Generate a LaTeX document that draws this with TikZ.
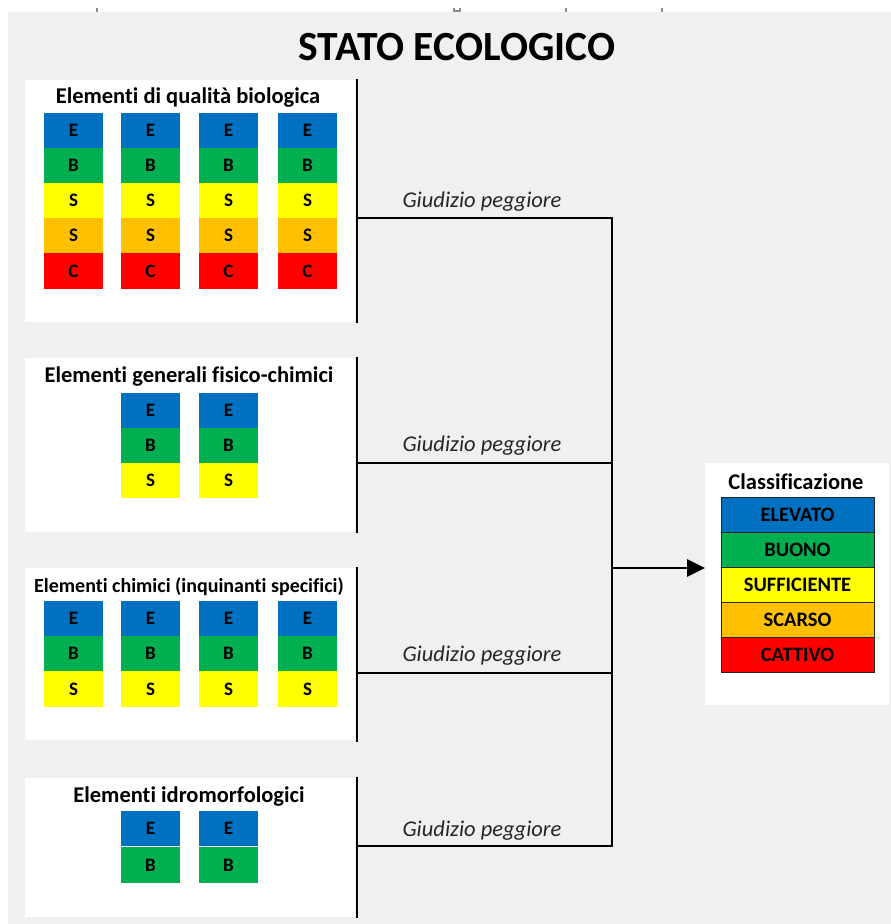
\documentclass[tikz,border=0pt]{standalone}
\usepackage{fontspec}
\setmainfont{Carlito}[Ligatures=NoCommon]
\usetikzlibrary{arrows.meta}
\definecolor{bgray}{HTML}{F0F0F0}
\definecolor{cE}{HTML}{0070C0}
\definecolor{cB}{HTML}{00B050}
\definecolor{cS}{HTML}{FFFF00}
\definecolor{cO}{HTML}{FFC000}
\definecolor{cC}{HTML}{FF0000}
\begin{document}
\begin{tikzpicture}[x=1pt,y=-1pt,
  panel/.style={fill=white,draw=none,inner sep=0,anchor=north west},
  ptitle/.style={font=\fontsize{22.5}{25}\selectfont\bfseries,inner sep=0},
  cell/.style={fill=#1,draw=none,minimum width=59pt,minimum height=35pt,inner sep=0,
    font=\fontsize{19}{21}\selectfont\bfseries},
  crow/.style={fill=#1,draw=black!85,line width=0.8pt,minimum width=153pt,minimum height=35pt,inner sep=0,
    font=\fontsize{20.5}{22}\selectfont\bfseries},
  judge/.style={font=\fontsize{22.5}{25}\selectfont\itshape,text=black!85,inner sep=0},
  wire/.style={line width=2.9pt,black},
  tick/.style={line width=1.2pt,black!45}]
\useasboundingbox (0,0) rectangle (891,924);
\fill[white] (0,0) rectangle (891,924);
\fill[bgray] (8,12) rectangle (891,924);
% small remnants at the top
\draw[tick] (97,8) -- (97,12);
\draw[tick] (454,8) -- (454,11) -- (460,11) -- (460,8);
\draw[tick] (566,8) -- (566,12);
\draw[tick] (662,8) -- (662,12);

\node[font=\fontsize{41.5}{44}\selectfont\bfseries,inner sep=0] (title) at (457,47) {STATO ECOLOGICO};

% panels
\node[panel,minimum width=330pt,minimum height=242pt] (p1) at (25,80) {};
\node[panel,minimum width=330pt,minimum height=174pt] (p2) at (25,358) {};
\node[panel,minimum width=330pt,minimum height=172pt] (p3) at (25,568) {};
\node[panel,minimum width=330pt,minimum height=139pt] (p4) at (25,778) {};
\node[panel,minimum width=184pt,minimum height=242pt] (pc) at (705,463) {};

\node[ptitle] (t1) at (188,98) {Elementi di qualità biologica};
\node[ptitle] (t2) at (189,377) {Elementi generali fisico-chimici};
\node[ptitle,font=\fontsize{20}{22}\selectfont\bfseries] (t3) at (189,587) {Elementi chimici (inquinanti specifici)};
\node[ptitle] (t4) at (189,797) {Elementi idromorfologici};
\node[ptitle] (tc) at (796,482) {Classificazione};

% panel 1 cells
\foreach \x [count=\i] in {73.5,150.5,228.5,307.5}{
  \node[cell=cE] (a\i-1) at (\x,130.5) {E};
  \node[cell=cB] (a\i-2) at (\x,165.5) {B};
  \node[cell=cS] (a\i-3) at (\x,200.5) {S};
  \node[cell=cO] (a\i-4) at (\x,235.5) {S};
  \node[cell=cC,minimum height=36pt] (a\i-5) at (\x,271) {C};
}
% panel 2 cells
\foreach \x [count=\i] in {150.5,228.5}{
  \node[cell=cE] (b\i-1) at (\x,410.5) {E};
  \node[cell=cB] (b\i-2) at (\x,445.5) {B};
  \node[cell=cS] (b\i-3) at (\x,480.5) {S};
}
% panel 3 cells
\foreach \x [count=\i] in {73.5,150.5,228.5,307.5}{
  \node[cell=cE] (c\i-1) at (\x,618.5) {E};
  \node[cell=cB] (c\i-2) at (\x,653.5) {B};
  \node[cell=cS,minimum height=36pt] (c\i-3) at (\x,689) {S};
}
% panel 4 cells
\foreach \x [count=\i] in {150.5,228.5}{
  \node[cell=cE] (d\i-1) at (\x,828.5) {E};
  \node[cell=cB,minimum height=36pt] (d\i-2) at (\x,865) {B};
}

% classification rows
\node[crow=cE] (k1) at (797.5,514.5) {ELEVATO};
\node[crow=cB] (k2) at (797.5,549.5) {BUONO};
\node[crow=cS] (k3) at (797.5,584.5) {SUFFICIENTE};
\node[crow=cO] (k4) at (797.5,619.5) {SCARSO};
\node[crow=cC] (k5) at (797.5,654.5) {CATTIVO};

% connectors
\coordinate (h1) at (357,218);
\coordinate (h2) at (357,463);
\coordinate (h3) at (357,673);
\coordinate (h4) at (357,846);
\coordinate (j1) at (612,218);
\coordinate (j2) at (612,463);
\coordinate (j3) at (612,673);
\coordinate (j4) at (612,846);
\coordinate (jm) at (612,568);

\draw[wire] (357,79) -- (357,323);
\draw[wire] (357,357) -- (357,533);
\draw[wire] (357,567) -- (357,742);
\draw[wire] (357,777) -- (357,918);
\draw[wire] (h1) -- (j1);
\draw[wire] (h2) -- (j2);
\draw[wire] (h3) -- (j3);
\draw[wire] (h4) -- (j4);
\draw[wire,line cap=rect] (j1) -- (j4);
\draw[wire,-{Triangle[length=18pt,width=17pt]}] (jm) -- (pc.west |- jm);

\node[judge] (g1) at (482,202) {Giudizio peggiore};
\node[judge] (g2) at (482,446) {Giudizio peggiore};
\node[judge] (g3) at (482,656) {Giudizio peggiore};
\node[judge] (g4) at (482,831) {Giudizio peggiore};
\end{tikzpicture}
\end{document}
